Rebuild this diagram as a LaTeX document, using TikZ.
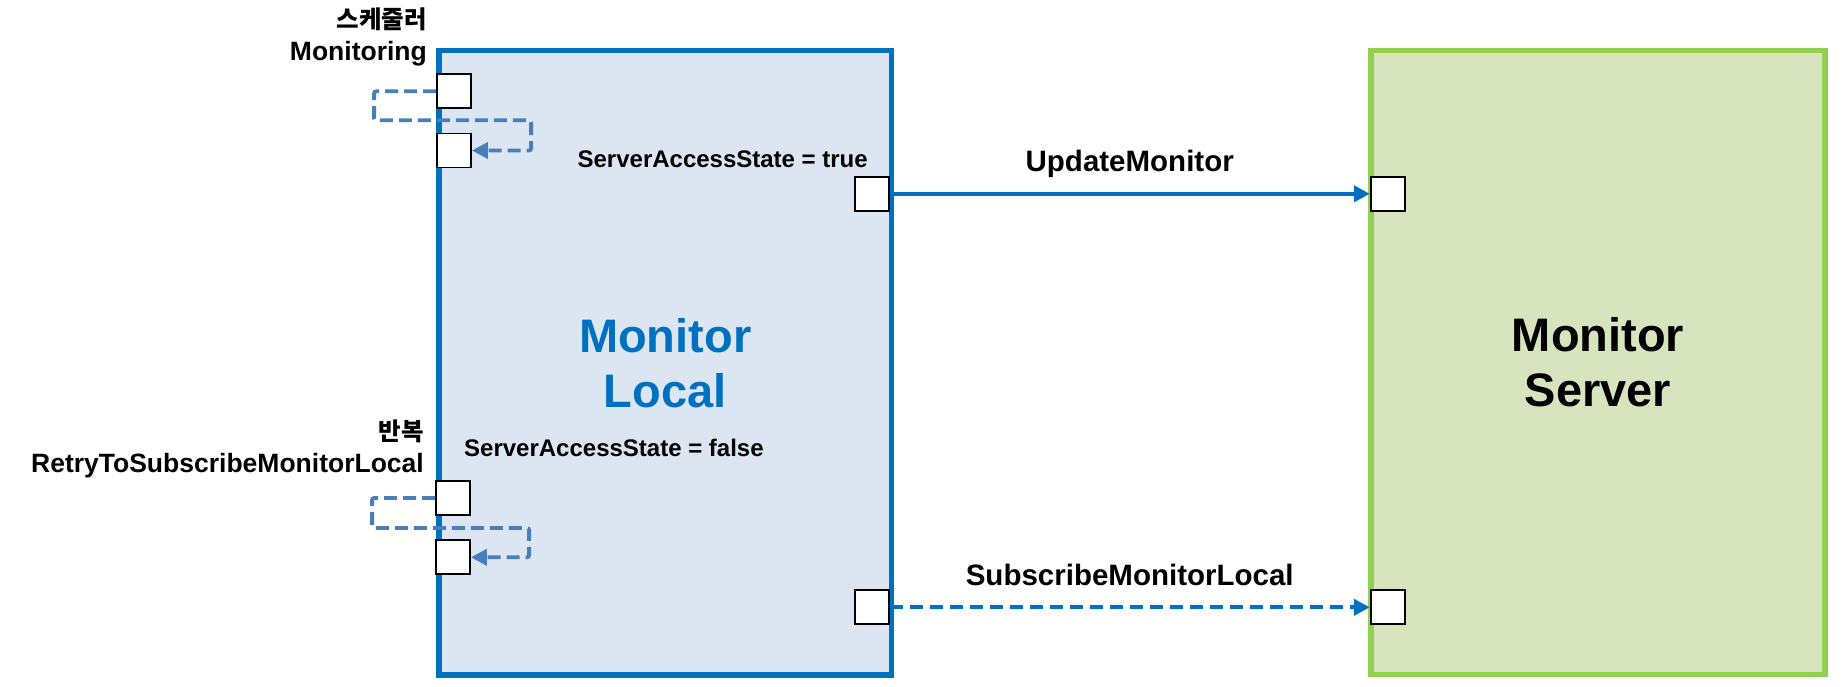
\documentclass[tikz,border=0pt]{standalone}
\usepackage{fontspec}
\setmainfont{Liberation Sans}
\newfontfamily\krfont{Noto Sans CJK KR}
\usetikzlibrary{arrows.meta}
\definecolor{localblue}{HTML}{0070C0}
\definecolor{localfill}{HTML}{DCE6F2}
\definecolor{servergreen}{HTML}{92D050}
\definecolor{serverfill}{HTML}{D7E4BD}
\definecolor{loopblue}{HTML}{4A7EBB}

\begin{document}
\begin{tikzpicture}[x=1pt, y=-1pt,
  every node/.style = {inner sep=0pt, font=\bfseries},
  box/.style = {draw, line width=5.5pt, align=center,
    minimum width=452.5pt, minimum height=624pt,
    font=\fontsize{47}{55}\selectfont\bfseries},
  port/.style = {draw=black, line width=1.8pt, fill=white,
    minimum size=34pt},
  portlabel/.style = {anchor=south east, align=right,
    font=\fontsize{26.5}{32}\selectfont\bfseries},
  state/.style = {font=\fontsize{24}{28}\selectfont\bfseries},
  flow/.style = {draw=localblue, line width=4pt,
    -{Triangle[length=16pt, width=16pt]}},
  flowlabel/.style = {midway, anchor=base, yshift=22pt,
    font=\fontsize{29.5}{34}\selectfont\bfseries},
  loopline/.style = {draw=loopblue, line width=3.8pt,
    dash pattern=on 13pt off 6pt, rounded corners=2pt,
    -{Triangle[length=16pt, width=16pt]}}]
  \useasboundingbox (0,0) rectangle (1846,687);
  \node[box, draw=localblue, fill=localfill, text=localblue] (local) at (665.25,362.75) {Monitor\\Local};
  \node[box, draw=servergreen, fill=serverfill, minimum width=454pt] (server) at (1598,362.5) {Monitor\\Server};
  \node[port] (p1) at (454,91.3) {};
  \node[port] (p2) at (454,150.5) {};
  \node[port] (p3) at (453,498) {};
  \node[port] (p4) at (453,557.3) {};
  \node[port] (p5) at (871.7,193.8) {};
  \node[port] (p6) at (871.7,607.3) {};
  \node[port] (s1) at (1387.7,193.8) {};
  \node[port] (s2) at (1387.7,607.3) {};
  \node[portlabel] (lblmon) at (427,66.5) {{\krfont\fontsize{24.5}{32}\selectfont 스케줄러}\\Monitoring};
  \node[portlabel] (lblretry) at (424,478.5) {{\krfont\fontsize{24.5}{32}\selectfont 반복}\\RetryToSubscribeMonitorLocal};
  \node[state, anchor=base east] (sastrue) at (868,168) {ServerAccessState = true};
  \node[state, anchor=base west] (sasfalse) at (464,456.5) {ServerAccessState = false};
  \draw[flow] (p5.east) -- node[flowlabel] {UpdateMonitor} (s1.west);
  \draw[flow, dash pattern=on 13pt off 7pt] (p6.east) -- node[flowlabel] {SubscribeMonitorLocal} (s2.west);
  \draw[loopline] (p1.west) -- ++(-62,0) -- ++(0,29) -- ++(157,0) |- (p2.east);
  \draw[loopline] (p3.west) -- ++(-63,0) -- ++(0,30) -- ++(157,0) |- (p4.east);
\end{tikzpicture}
\end{document}
